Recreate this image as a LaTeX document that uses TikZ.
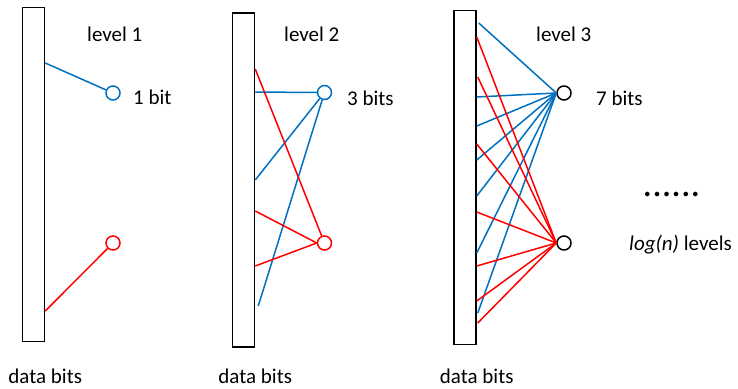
\documentclass[tikz,border=0pt]{standalone}
\usepackage{fontspec}
\setmainfont{Carlito}
\usetikzlibrary{positioning}
\definecolor{LinkBlue}{HTML}{0070C0}
\definecolor{LinkRed}{HTML}{FF0000}

\begin{document}
\begin{tikzpicture}[
    x=1pt, y=-1pt,
    font=\fontsize{21}{25}\selectfont,
    bar/.style={draw, line width=1.5pt, minimum width=22pt,
        minimum height=334pt, inner sep=0pt},
    bitnode/.style={circle, draw, line width=1.5pt, minimum size=14pt,
        inner sep=0pt},
    blueline/.style={LinkBlue, line width=1.5pt},
    redline/.style={LinkRed, line width=1.5pt},
    caption/.style={anchor=base west, inner sep=0pt}
]
\useasboundingbox (0,0) rectangle (738,388);

% data bit columns
\node[bar] (bar1) at (33.5,174.5) {};
\node[bar] (bar2) at (243.5,180) {};
\node[bar] (bar3) at (465,177.5) {};

% parity bits of each level
\node[bitnode, draw=LinkBlue] (c1a) at (113,93) {};
\node[bitnode, draw=LinkRed]  (c1b) at (113,243) {};
\node[bitnode, draw=LinkBlue] (c2a) at (324.5,92.5) {};
\node[bitnode, draw=LinkRed]  (c2b) at (324.5,243) {};
\node[bitnode] (c3a) at (564,93) {};
\node[bitnode] (c3b) at (564,243) {};

% level 1
\path (bar1.east |- 0,63) coordinate (s1a);
\path (bar1.east |- 0,311) coordinate (s1b);
\draw[blueline] (s1a) -- (c1a);
\draw[redline] (s1b) -- (c1b);

% level 2
\foreach \y/\dx [count=\i] in {92/0, 180/0, 306/3} {
    \path (bar2.east |- 0,\y) ++(\dx,0) coordinate (s2a-\i);
}
\foreach \y [count=\i] in {69, 211, 266} {
    \path (bar2.east |- 0,\y) coordinate (s2b-\i);
}
\draw[blueline] (s2a-1) -- (c2a.west);
\draw[blueline] (s2a-2) -- (c2a);
\draw[blueline] (s2a-3) -- (c2a);
\draw[redline] (s2b-1) -- (c2b);
\draw[redline] (s2b-2) -- (c2b.west);
\draw[redline] (s2b-3) -- (c2b.west);

% level 3
\foreach \y/\dx [count=\i] in {23/2, 97/0, 126/0, 160/0, 196/0, 253/0, 313/1} {
    \path (bar3.east |- 0,\y) ++(\dx,0) coordinate (s3a-\i);
    \draw[blueline] (s3a-\i) -- (c3a.west);
}
\foreach \y/\dx [count=\i] in {37/0, 77/1, 144/0, 212/0, 266/0, 301/0, 323/1} {
    \path (bar3.east |- 0,\y) ++(\dx,0) coordinate (s3b-\i);
    \draw[redline] (s3b-\i) -- (c3b.west);
}

% labels
\node[caption] (lv1) at (87,41) {level 1};
\node[caption] (lv2) at (284,41) {level 2};
\node[caption] (lv3) at (536,41) {level 3};
\node[caption] (nb1) at (133,104) {1 bit};
\node[caption] (nb2) at (347,105) {3 bits};
\node[caption] (nb3) at (596,105) {7 bits};
\node[caption] (lg) at (629,250) {\textit{log(n)} levels};
\node[inner sep=0pt, font=\fontsize{38}{40}\selectfont] (dots) at (671.5,194) {......};

\foreach \b in {1,2,3} {
    \node[anchor=base, inner sep=0pt] (db\b) at (bar\b.east |- 0,383) {data bits};
}
\end{tikzpicture}
\end{document}
